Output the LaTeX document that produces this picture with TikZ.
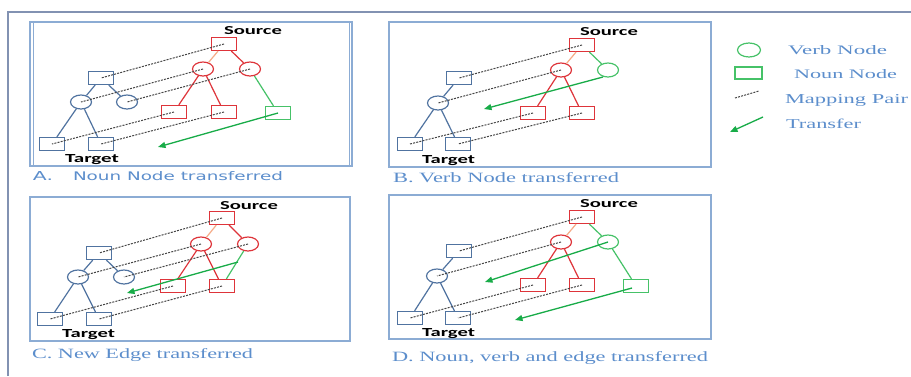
\documentclass[tikz,border=0pt]{standalone}
\usepackage{graphicx}
\usepackage{fontspec}
\setmainfont{Liberation Serif}
\newfontfamily\lblfont{Carlito}
\newfontfamily\capafont{DejaVu Sans}
\usetikzlibrary{shapes.geometric,arrows.meta}
\newcommand{\fitbox}[3]{\resizebox{#1}{#2}{#3}}
\definecolor{blueN}{RGB}{80,115,160}
\definecolor{redN}{RGB}{222,52,58}
\definecolor{greenN}{RGB}{70,194,104}
\definecolor{greenA}{RGB}{24,172,72}
\definecolor{orangeE}{RGB}{246,172,136}
\definecolor{frameC}{RGB}{140,172,212}
\definecolor{capC}{RGB}{92,142,204}
\definecolor{outerC}{RGB}{130,146,178}
\definecolor{mapC}{RGB}{70,70,70}
\tikzset{
  sq/.style={draw, rectangle, minimum width=25pt, minimum height=13pt, inner sep=0pt, line width=1.2pt},
  vb/.style={draw, ellipse, minimum width=21pt, minimum height=14pt, inner sep=0pt, line width=1.2pt},
  rn/.style={redN}, bn/.style={blueN}, gn/.style={greenN},
  edgeR/.style={draw=redN, line width=1.2pt},
  edgeB/.style={draw=blueN, line width=1.2pt},
  edgeG/.style={draw=greenN, line width=1.2pt},
  edgeO/.style={draw=orangeE, line width=1.2pt},
  mapline/.style={draw=mapC, line width=1pt, dash pattern=on 2pt off 1.2pt},
  xfer/.style={draw=greenA, line width=1.3pt, -{Triangle[length=7.5pt,width=6pt]}},
  panel/.style={draw=frameC, line width=1.3pt},
  txt/.style={anchor=base west, inner sep=0pt, outer sep=0pt},
  lbl/.style={txt, text=black},
  captxt/.style={txt, text=capC},
}
\begin{document}
\begin{tikzpicture}[x=1pt,y=-1pt]
\useasboundingbox (0,0) rectangle (911,376);
\fill[white] (0,0) rectangle (911,376);
% outer frame
\draw[outerC, line width=1.2pt] (8,376) -- (8,12) -- (911,12);

% ================= Panel A =================
\draw[panel] (30,22) rectangle (352,166);
\draw[frameC, line width=1pt] (33,22) -- (33,166) (349,22) -- (349,166);
\node[lbl] (srcA) at (224,34) {\fitbox{58pt}{8pt}{\lblfont\bfseries Source}};
\node[lbl] (tgtA) at (65,162) {\fitbox{54pt}{8pt}{\lblfont\bfseries Target}};
\node[sq,rn] (aS0) at (224,44) {};
\node[vb,rn] (aS1) at (203,69) {};
\node[vb,rn] (aS2) at (250,69) {};
\node[sq,rn] (aS3) at (174,112) {};
\node[sq,rn] (aS4) at (224,112) {};
\node[sq,gn] (aS5) at (278,113) {};
\node[sq,bn] (aT0) at (101,78) {};
\node[vb,bn] (aT1) at (81,102) {};
\node[vb,bn] (aT2) at (127,102) {};
\node[sq,bn] (aT3) at (52,144) {};
\node[sq,bn] (aT4) at (101,144) {};
\draw[edgeO] (aS0) -- (aS1);
\draw[edgeR] (aS0) -- (aS2);
\draw[edgeR] (aS1) -- (aS3);
\draw[edgeR] (aS1) -- (aS4);
\draw[edgeG] (aS2) -- (aS5);
\draw[edgeB] (aT0) -- (aT1);
\draw[edgeB] (aT0) -- (aT2);
\draw[edgeB] (aT1) -- (aT3);
\draw[edgeB] (aT1) -- (aT4);
\draw[mapline] (aS0.center) -- (aT0.center);
\draw[mapline] (aS1.center) -- (aT1.center);
\draw[mapline] (aS2.center) -- (aT2.center);
\draw[mapline] (aS3.center) -- (aT3.center);
\draw[mapline] (aS4.center) -- (aT4.center);
\coordinate (aE) at (158,147);
\draw[xfer] (aS5.center) -- (aE);
\node[captxt] (capA1) at (33,180) {\fitbox{20pt}{9pt}{\capafont A.}};
\node[captxt] (capA2) at (73,180) {\fitbox{210pt}{9pt}{\capafont Noun Node transferred}};

% ================= Panel B =================
\draw[panel] (389,22) rectangle (711,167);
\node[lbl] (srcB) at (580,35) {\fitbox{58pt}{8pt}{\lblfont\bfseries Source}};
\node[lbl] (tgtB) at (422,163) {\fitbox{53pt}{8pt}{\lblfont\bfseries Target}};
\node[sq,rn] (bS0) at (582,45) {};
\node[vb,rn] (bS1) at (561,70) {};
\node[vb,gn] (bS2) at (608,70) {};
\node[sq,rn] (bS3) at (533,113) {};
\node[sq,rn] (bS4) at (582,113) {};
\node[sq,bn] (bT0) at (459,78) {};
\node[vb,bn] (bT1) at (438,103) {};
\node[sq,bn] (bT3) at (410,144) {};
\node[sq,bn] (bT4) at (458,144) {};
\draw[edgeO] (bS0) -- (bS1);
\draw[edgeG] (bS0) -- (bS2);
\draw[edgeR] (bS1) -- (bS3);
\draw[edgeR] (bS1) -- (bS4);
\draw[edgeB] (bT0) -- (bT1);
\draw[edgeB] (bT1) -- (bT3);
\draw[edgeB] (bT1) -- (bT4);
\draw[mapline] (bS0.center) -- (bT0.center);
\draw[mapline] (bS1.center) -- (bT1.center);
\draw[mapline] (bS3.center) -- (bT3.center);
\draw[mapline] (bS4.center) -- (bT4.center);
\coordinate (bB) at (603,77);
\coordinate (bE) at (484,109);
\draw[xfer] (bB) -- (bE);
\node[captxt] (capB) at (393,182) {\fitbox{226pt}{10pt}{B. Verb Node transferred}};

% ================= Panel C =================
\draw[panel] (30,197) rectangle (350,341);
\node[lbl] (srcC) at (220,209) {\fitbox{58pt}{8pt}{\lblfont\bfseries Source}};
\node[lbl] (tgtC) at (62,337) {\fitbox{53pt}{8pt}{\lblfont\bfseries Target}};
\node[sq,rn] (cS0) at (222,218) {};
\node[vb,rn] (cS1) at (201,244) {};
\node[vb,rn] (cS2) at (248,244) {};
\node[sq,rn] (cS3) at (173,286) {};
\node[sq,rn] (cS4) at (222,286) {};
\node[sq,bn] (cT0) at (99,253) {};
\node[vb,bn] (cT1) at (78,277) {};
\node[vb,bn] (cT2) at (124,277) {};
\node[sq,bn] (cT3) at (50,319) {};
\node[sq,bn] (cT4) at (99,319) {};
\draw[edgeO] (cS0) -- (cS1);
\draw[edgeR] (cS0) -- (cS2);
\draw[edgeR] (cS1) -- (cS3);
\draw[edgeR] (cS1) -- (cS4);
\draw[edgeG] (cS2) -- (cS4);
\draw[edgeB] (cT0) -- (cT1);
\draw[edgeB] (cT0) -- (cT2);
\draw[edgeB] (cT1) -- (cT3);
\draw[edgeB] (cT1) -- (cT4);
\draw[mapline] (cS0.center) -- (cT0.center);
\draw[mapline] (cS1.center) -- (cT1.center);
\draw[mapline] (cS2.center) -- (cT2.center);
\draw[mapline] (cS3.center) -- (cT3.center);
\draw[mapline] (cS4.center) -- (cT4.center);
\coordinate (cB) at (238,262);
\coordinate (cE) at (127,293);
\draw[xfer] (cB) -- (cE);
\node[captxt] (capC) at (32,358) {\fitbox{221pt}{10pt}{C. New Edge transferred}};

% ================= Panel D =================
\draw[panel] (389,195) rectangle (711,339);
\node[lbl] (srcD) at (580,207) {\fitbox{58pt}{8pt}{\lblfont\bfseries Source}};
\node[lbl] (tgtD) at (422,336) {\fitbox{53pt}{8pt}{\lblfont\bfseries Target}};
\node[sq,rn] (dS0) at (582,217) {};
\node[vb,rn] (dS1) at (561,242) {};
\node[vb,gn] (dS2) at (608,242) {};
\node[sq,rn] (dS3) at (533,285) {};
\node[sq,rn] (dS4) at (582,285) {};
\node[sq,gn] (dS5) at (636,286) {};
\node[sq,bn] (dT0) at (459,251) {};
\node[vb,bn] (dT1) at (437,276) {};
\node[sq,bn] (dT3) at (410,318) {};
\node[sq,bn] (dT4) at (458,318) {};
\draw[edgeO] (dS0) -- (dS1);
\draw[edgeG] (dS0) -- (dS2);
\draw[edgeR] (dS1) -- (dS3);
\draw[edgeR] (dS1) -- (dS4);
\draw[edgeG] (dS2) -- (dS5);
\draw[edgeB] (dT0) -- (dT1);
\draw[edgeB] (dT1) -- (dT3);
\draw[edgeB] (dT1) -- (dT4);
\draw[mapline] (dS0.center) -- (dT0.center);
\draw[mapline] (dS1.center) -- (dT1.center);
\draw[mapline] (dS3.center) -- (dT3.center);
\draw[mapline] (dS4.center) -- (dT4.center);
\coordinate (dE1) at (485,282);
\coordinate (dB2) at (632,288);
\coordinate (dE2) at (515,320);
\draw[xfer] (dS2.center) -- (dE1);
\draw[xfer] (dB2) -- (dE2);
\node[captxt] (capD) at (392,361) {\fitbox{316pt}{10pt}{D. Noun, verb and edge transferred}};

% ================= Legend =================
\node[vb,gn, minimum width=23pt, minimum height=14pt] (legV) at (749,50) {};
\node[sq,gn, minimum width=27pt, minimum height=12pt] (legN) at (748.5,73) {};
\coordinate (legM1) at (735,98);
\coordinate (legM2) at (759,91);
\draw[mapline] (legM1) -- (legM2);
\coordinate (legT1) at (763,117);
\coordinate (legT2) at (730,132);
\draw[xfer] (legT1) -- (legT2);
\node[captxt] (legVt) at (788,54) {\fitbox{99pt}{9pt}{Verb Node}};
\node[captxt] (legNt) at (794,78) {\fitbox{103pt}{9pt}{Noun Node}};
\node[captxt] (legMt) at (785,103) {\fitbox{123pt}{9pt}{Mapping Pair}};
\node[captxt] (legTt) at (786,128) {\fitbox{75pt}{9.5pt}{Transfer}};
\end{tikzpicture}
\end{document}
